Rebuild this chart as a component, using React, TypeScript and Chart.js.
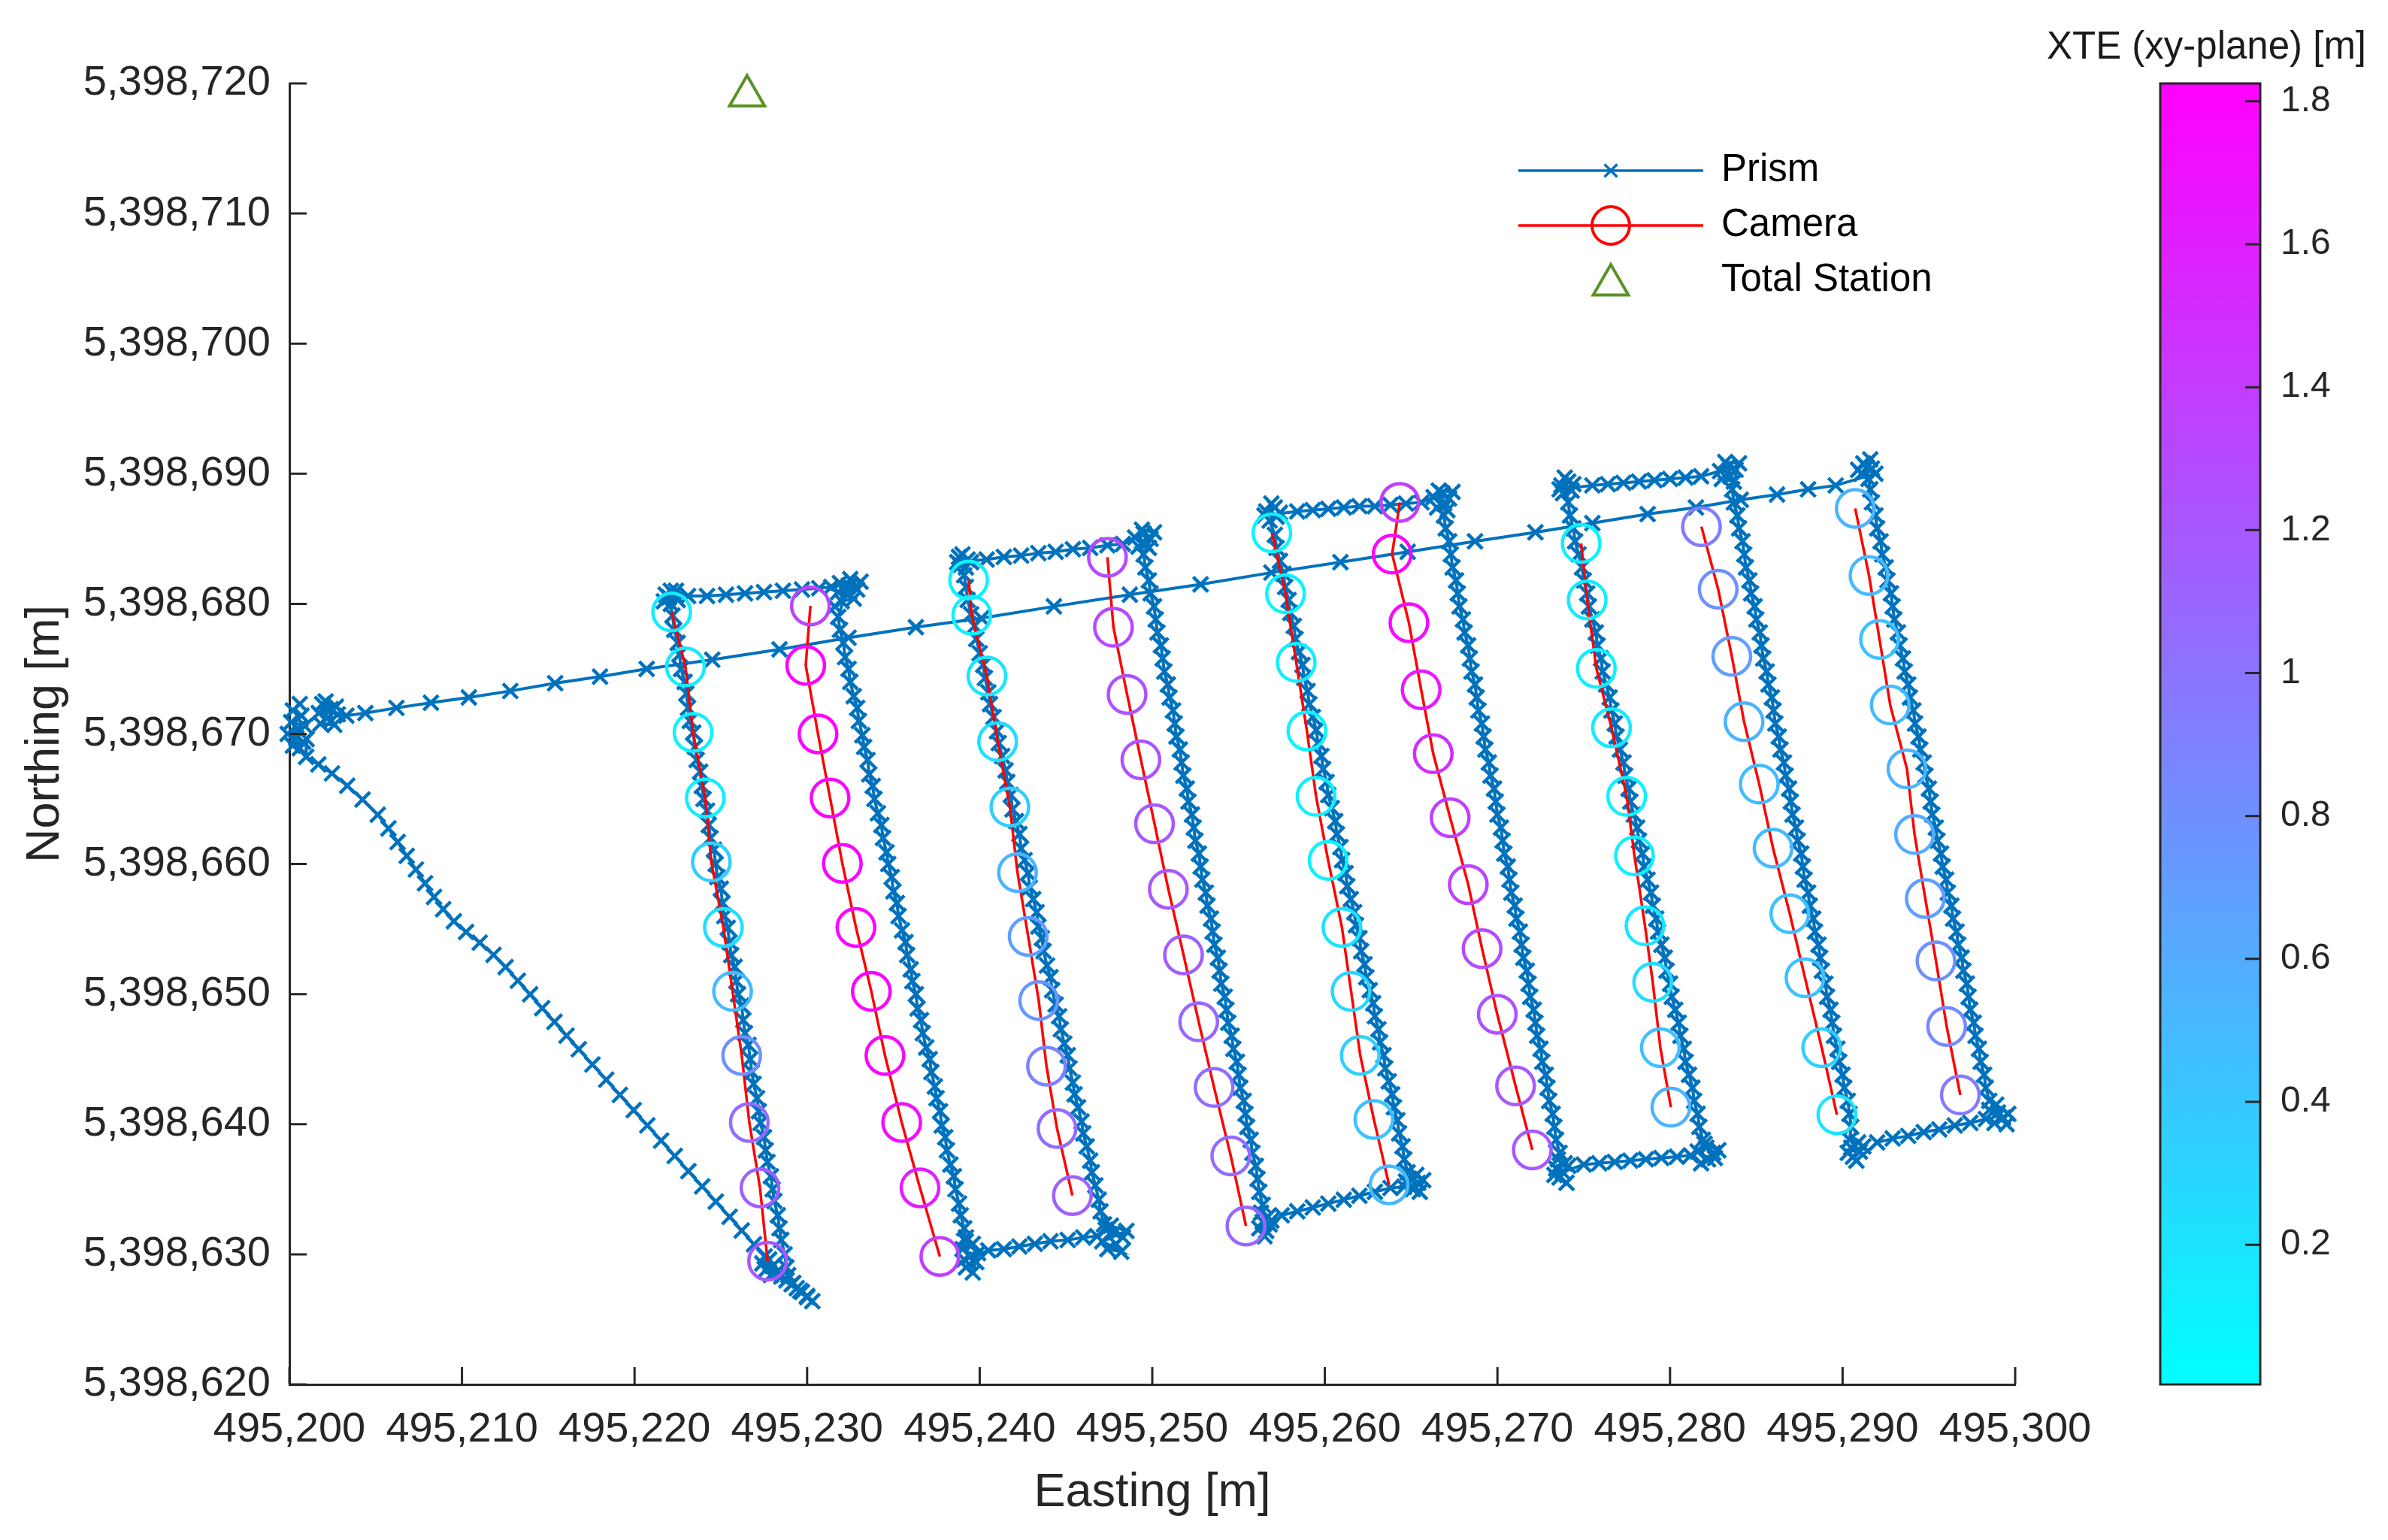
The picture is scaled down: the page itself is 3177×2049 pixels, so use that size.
import React, { useEffect, useRef } from 'react';
import { Chart, registerables } from 'chart.js';

Chart.register(...registerables);

// ---------------- base offsets (Easting / Northing in metres) ----------------
const E0 = 495200;
const N0 = 5398600;

// axis tick values
const xTickMin = 495200;
const xTickMax = 495300;
const yTickMin = 5398620;
const yTickMax = 5398720;
const tickStep = 10;
const colorbarTicks = [0.2, 0.4, 0.6, 0.8, 1.0, 1.2, 1.4, 1.6, 1.8];
const XTE_MIN = 0.0046;
const XTE_MAX = 1.825;

// ---------------- Prism track segments [E - E0, N - N0] ----------------
const startCluster = [[0.6,72.3],[0.2,71.8],[0.7,71.4],[0.1,70.9],[0.9,70.6],[0.5,70.4],[-0.1,70.0],[0.4,69.7],[0.8,69.4],[0.2,69.1],[0.6,68.9],[1.0,69.6]];
const diagonal = [[0.97,68.24],[1.68,67.66],[2.47,66.96],[3.35,66.02],[4.24,64.96],[5.12,63.79],[5.74,62.74],[6.27,61.69],[6.8,60.63],[7.33,59.58],[7.86,58.52],[8.38,57.47],[8.91,56.53],[9.53,55.6],[10.24,54.78],[11.03,53.96],[11.83,53.02],[12.53,52.08],[13.24,51.03],[13.95,49.98],[14.65,48.92],[15.36,47.87],[16.06,46.81],[16.77,45.76],[17.56,44.59],[18.36,43.42],[19.15,42.25],[19.95,41.08],[20.74,39.91],[21.54,38.74],[22.33,37.56],[23.12,36.39],[23.92,35.22],[24.71,34.05],[25.51,32.88],[26.21,31.83],[26.92,30.77],[27.54,29.84]];
const corner1 = [[27.8,29.6],[27.4,29.3],[28.0,29.1],[27.6,28.8],[28.2,28.6],[28.5,28.3],[27.9,28.4],[28.8,28.0],[29.1,27.7],[29.4,27.4],[29.7,27.1],[30.0,26.8],[30.3,26.4],[30.0,26.7],[29.6,27.2],[29.2,27.8],[28.9,28.4]];
const strip1 = [[28.8,29.0],[28.7,30.0],[28.5,31.1],[28.4,32.0],[28.3,33.0],[28.1,34.1],[28.0,35.0],[27.9,36.0],[27.7,37.1],[27.6,38.0],[27.5,39.0],[27.3,40.1],[27.2,41.0],[27.1,42.0],[26.9,43.1],[26.8,44.0],[26.7,45.0],[26.6,46.1],[26.4,47.0],[26.3,48.0],[26.2,49.1],[26.0,50.0],[25.9,51.0],[25.8,52.1],[25.6,53.0],[25.5,54.0],[25.4,55.1],[25.2,56.0],[25.1,57.0],[25.0,58.1],[24.8,59.0],[24.7,60.0],[24.6,61.1],[24.4,62.0],[24.3,63.0],[24.2,64.1],[24.0,65.0],[23.9,66.0],[23.8,67.1],[23.6,68.0],[23.5,69.0],[23.4,70.1],[23.2,71.0],[23.1,72.0],[23.0,73.1],[22.9,74.0],[22.7,75.0],[22.6,76.1],[22.5,77.0],[22.3,78.0],[22.2,79.1],[22.1,80.0]];
const corner1Top = [[22.0,80.5],[21.7,80.2],[22.3,80.7],[22.1,81.0],[21.8,80.7],[22.5,80.3],[22.4,81.0]];
const top1 = [[23.1,80.6],[24.2,80.6],[25.3,80.7],[26.4,80.8],[27.5,80.9],[28.6,81.0],[29.7,81.1],[30.7,81.2]];
const corner2 = [[31.4,81.3],[31.9,81.6],[32.4,81.4],[32.9,81.1],[32.3,80.8],[31.8,80.9],[32.7,80.4],[32.0,80.2],[31.6,79.8],[33.1,81.7],[32.5,81.9]];
const strip2 = [[31.8,79.0],[31.9,78.0],[32.1,77.0],[32.2,75.9],[32.4,75.0],[32.5,74.0],[32.7,72.9],[32.9,72.0],[33.0,71.0],[33.2,69.9],[33.3,69.0],[33.5,68.0],[33.6,66.9],[33.8,66.0],[33.9,65.0],[34.1,63.9],[34.3,63.0],[34.4,62.0],[34.6,60.9],[34.7,60.0],[34.9,59.0],[35.0,57.9],[35.2,57.0],[35.3,56.0],[35.5,54.9],[35.7,54.0],[35.8,53.0],[36.0,51.9],[36.1,51.0],[36.3,50.0],[36.4,48.9],[36.6,48.0],[36.7,47.0],[36.9,45.9],[37.1,45.0],[37.2,44.0],[37.4,42.9],[37.5,42.0],[37.7,41.0],[37.8,39.9],[38.0,39.0],[38.1,38.0],[38.3,36.9],[38.5,36.0],[38.6,35.0],[38.8,33.9],[38.9,33.0],[39.1,32.0],[39.2,31.0]];
const corner3 = [[39.2,31.3],[39.6,30.8],[39.0,30.4],[39.5,29.9],[39.8,29.4],[39.2,29.0],[39.6,28.6],[39.9,30.1],[39.1,29.6]];
const bottom1 = [[40.5,30.3],[41.4,30.4],[42.3,30.6],[43.2,30.8],[44.1,31.0],[45.1,31.1],[46.0,31.3]];
const corner4 = [[46.8,31.4],[47.3,31.9],[47.8,31.7],[48.3,31.3],[47.9,30.8],[47.4,30.4],[48.2,30.2],[47.1,31.0],[48.5,31.8],[47.6,32.2]];
const strip3 = [[47.2,32.3],[47.0,33.3],[46.9,34.2],[46.7,35.3],[46.5,36.3],[46.4,37.2],[46.2,38.3],[46.0,39.3],[45.9,40.2],[45.7,41.3],[45.5,42.3],[45.4,43.2],[45.2,44.3],[45.1,45.3],[44.9,46.2],[44.7,47.3],[44.6,48.3],[44.4,49.2],[44.2,50.3],[44.1,51.3],[43.9,52.2],[43.7,53.3],[43.6,54.3],[43.4,55.2],[43.3,56.3],[43.1,57.3],[42.9,58.2],[42.8,59.3],[42.6,60.3],[42.4,61.2],[42.3,62.3],[42.1,63.3],[41.9,64.2],[41.8,65.3],[41.6,66.3],[41.5,67.2],[41.3,68.3],[41.1,69.3],[41.0,70.2],[40.8,71.3],[40.6,72.3],[40.5,73.2],[40.3,74.3],[40.2,75.3],[40.0,76.2],[39.8,77.3],[39.7,78.3],[39.5,79.2],[39.3,80.3],[39.2,81.3],[39.1,82.2]];
const corner5 = [[38.9,83.0],[39.3,83.4],[38.8,83.6],[39.2,82.8],[39.5,83.2],[39.0,83.8],[38.7,83.2]];
const top2 = [[40.4,83.4],[41.4,83.6],[42.4,83.7],[43.4,83.9],[44.4,84.0],[45.4,84.2],[46.4,84.3],[47.4,84.5],[48.3,84.6]];
const corner6 = [[49.0,85.1],[49.5,85.4],[49.9,85.0],[49.6,84.6],[49.2,84.4],[49.8,84.3],[49.4,85.7],[50.1,85.5]];
const strip4 = [[49.5,83.8],[49.6,82.8],[49.8,81.8],[49.9,80.8],[50.1,79.8],[50.2,78.8],[50.3,77.8],[50.5,76.8],[50.6,75.8],[50.7,74.8],[50.9,73.8],[51.0,72.8],[51.2,71.8],[51.3,70.8],[51.4,69.8],[51.6,68.8],[51.7,67.8],[51.8,66.8],[52.0,65.8],[52.1,64.8],[52.3,63.8],[52.4,62.8],[52.5,61.8],[52.7,60.8],[52.8,59.8],[52.9,58.8],[53.1,57.8],[53.2,56.8],[53.4,55.8],[53.5,54.8],[53.6,53.8],[53.8,52.8],[53.9,51.8],[54.0,50.8],[54.2,49.8],[54.3,48.8],[54.4,47.8],[54.6,46.8],[54.7,45.8],[54.9,44.8],[55.0,43.8],[55.1,42.8],[55.3,41.8],[55.4,40.8],[55.5,39.8],[55.7,38.8],[55.8,37.8],[56.0,36.8],[56.1,35.8],[56.2,34.8],[56.4,33.8]];
const corner7 = [[56.3,33.2],[56.7,32.9],[56.4,32.5],[56.8,32.3],[56.2,32.0],[56.6,31.8],[56.9,32.6],[56.5,31.4]];
const bottom2 = [[57.5,33.0],[58.4,33.3],[59.3,33.6],[60.2,33.9],[61.1,34.2],[62.0,34.5],[62.9,34.8],[63.8,35.1]];
const corner8 = [[64.6,35.2],[65.1,35.0],[65.4,35.5],[64.9,35.8],[65.3,36.1],[64.7,35.6],[65.5,34.8],[65.7,35.7]];
const strip5 = [[64.8,36.3],[64.6,37.3],[64.5,38.3],[64.3,39.3],[64.2,40.3],[64.0,41.3],[63.9,42.3],[63.7,43.3],[63.5,44.3],[63.4,45.3],[63.2,46.3],[63.1,47.3],[62.9,48.3],[62.8,49.3],[62.6,50.3],[62.4,51.3],[62.3,52.3],[62.1,53.3],[62.0,54.3],[61.8,55.3],[61.7,56.3],[61.5,57.3],[61.3,58.3],[61.2,59.3],[61.0,60.3],[60.9,61.3],[60.7,62.3],[60.6,63.3],[60.4,64.3],[60.2,65.3],[60.1,66.3],[59.9,67.3],[59.8,68.3],[59.6,69.3],[59.5,70.3],[59.3,71.3],[59.1,72.3],[59.0,73.3],[58.8,74.3],[58.7,75.3],[58.5,76.3],[58.3,77.3],[58.2,78.3],[58.0,79.3],[57.9,80.3],[57.7,81.3],[57.6,82.3],[57.4,83.3],[57.2,84.3],[57.1,85.3]];
const corner9 = [[56.8,86.4],[57.2,86.7],[56.6,87.1],[57.1,87.4],[57.4,87.0],[56.9,87.7],[56.5,86.8]];
const top3 = [[58.4,87.1],[59.3,87.2],[60.2,87.3],[61.1,87.4],[62.0,87.5],[62.9,87.5],[63.8,87.6],[64.7,87.7],[65.6,87.8]];
const corner10 = [[66.3,88.2],[66.8,88.5],[67.2,88.1],[66.9,87.7],[66.5,87.4],[67.1,87.2],[66.6,88.7],[67.4,88.6]];
const strip6 = [[66.9,86.8],[67.0,85.8],[67.2,84.8],[67.3,83.8],[67.4,82.8],[67.6,81.8],[67.7,80.8],[67.8,79.8],[68.0,78.8],[68.1,77.8],[68.3,76.8],[68.4,75.8],[68.5,74.8],[68.7,73.8],[68.8,72.8],[68.9,71.8],[69.1,70.8],[69.2,69.8],[69.3,68.8],[69.5,67.8],[69.6,66.8],[69.8,65.8],[69.9,64.8],[70.0,63.8],[70.2,62.8],[70.3,61.8],[70.4,60.8],[70.6,59.8],[70.7,58.8],[70.8,57.8],[71.0,56.8],[71.1,55.8],[71.3,54.8],[71.4,53.8],[71.5,52.8],[71.7,51.8],[71.8,50.8],[71.9,49.8],[72.1,48.8],[72.2,47.8],[72.3,46.8],[72.5,45.8],[72.6,44.8],[72.8,43.8],[72.9,42.8],[73.0,41.8],[73.2,40.8],[73.3,39.8],[73.4,38.8],[73.6,37.8]];
const corner11 = [[73.5,37.3],[73.9,37.0],[73.4,36.6],[73.8,36.3],[74.1,36.8],[73.6,35.9],[74.0,35.5],[73.3,36.1]];
const bottom3 = [[75.0,36.9],[75.9,37.0],[76.8,37.1],[77.7,37.2],[78.6,37.3],[79.5,37.4],[80.4,37.5],[81.2,37.6]];
const corner12 = [[81.6,37.9],[82.1,38.2],[82.5,37.8],[82.2,37.3],[81.8,37.0],[82.6,37.4],[82.0,38.5],[82.8,38.0]];
const strip7 = [[81.9,38.8],[81.7,39.8],[81.6,40.8],[81.4,41.8],[81.3,42.8],[81.1,43.8],[80.9,44.8],[80.8,45.8],[80.6,46.8],[80.5,47.8],[80.3,48.8],[80.1,49.8],[80.0,50.8],[79.8,51.8],[79.7,52.8],[79.5,53.8],[79.3,54.8],[79.2,55.8],[79.0,56.8],[78.9,57.8],[78.7,58.8],[78.5,59.8],[78.4,60.8],[78.2,61.8],[78.1,62.8],[77.9,63.8],[77.7,64.8],[77.6,65.8],[77.4,66.8],[77.3,67.8],[77.1,68.8],[76.9,69.8],[76.8,70.8],[76.6,71.8],[76.5,72.8],[76.3,73.8],[76.1,74.8],[76.0,75.8],[75.8,76.8],[75.7,77.8],[75.5,78.8],[75.3,79.8],[75.2,80.8],[75.0,81.8],[74.9,82.8],[74.7,83.8],[74.5,84.8],[74.4,85.8],[74.2,86.8],[74.1,87.8]];
const corner13 = [[73.8,88.5],[74.3,88.7],[73.7,89.1],[74.1,89.4],[74.4,89.2],[73.9,89.7],[73.6,88.8]];
const top4 = [[75.5,89.1],[76.4,89.2],[77.3,89.3],[78.2,89.4],[79.1,89.5],[80.0,89.6],[80.9,89.7],[81.8,89.8]];
const corner14 = [[82.9,90.2],[83.4,90.6],[83.8,90.3],[83.5,89.8],[83.0,89.6],[83.7,89.4],[83.2,90.9],[84.0,90.8]];
const strip8 = [[83.6,88.8],[83.7,87.8],[83.9,86.8],[84.0,85.8],[84.2,84.8],[84.3,83.8],[84.4,82.8],[84.6,81.8],[84.7,80.8],[84.9,79.8],[85.0,78.8],[85.2,77.8],[85.3,76.8],[85.4,75.8],[85.6,74.8],[85.7,73.8],[85.9,72.8],[86.0,71.8],[86.1,70.8],[86.3,69.8],[86.4,68.8],[86.6,67.8],[86.7,66.8],[86.9,65.8],[87.0,64.8],[87.1,63.8],[87.3,62.8],[87.4,61.8],[87.6,60.8],[87.7,59.8],[87.8,58.8],[88.0,57.8],[88.1,56.8],[88.3,55.8],[88.4,54.8],[88.6,53.8],[88.7,52.8],[88.8,51.8],[89.0,50.8],[89.1,49.8],[89.3,48.8],[89.4,47.8],[89.5,46.8],[89.7,45.8],[89.8,44.8],[90.0,43.8],[90.1,42.8],[90.3,41.8],[90.4,40.8],[90.5,39.8]];
const corner15 = [[90.4,38.8],[90.9,38.6],[90.5,38.2],[91.0,37.9],[90.6,37.5],[91.2,38.3],[90.3,37.8],[90.8,37.2]];
const bottom4 = [[92.0,38.6],[92.9,38.9],[93.8,39.1],[94.7,39.4],[95.6,39.6],[96.5,39.9],[97.4,40.1]];
const corner16 = [[98.3,40.4],[98.8,40.1],[99.3,40.5],[99.0,40.9],[98.5,41.1],[99.5,40.0],[98.9,41.5],[99.6,40.8]];
const strip9 = [[98.5,41.8],[98.3,42.8],[98.2,43.8],[98.0,44.8],[97.9,45.8],[97.7,46.8],[97.6,47.8],[97.4,48.8],[97.3,49.8],[97.2,50.8],[97.0,51.8],[96.9,52.8],[96.7,53.8],[96.6,54.8],[96.4,55.8],[96.3,56.8],[96.1,57.8],[96.0,58.8],[95.8,59.8],[95.7,60.8],[95.5,61.8],[95.4,62.8],[95.2,63.8],[95.1,64.8],[95.0,65.8],[94.8,66.8],[94.7,67.8],[94.5,68.8],[94.4,69.8],[94.2,70.8],[94.1,71.8],[93.9,72.8],[93.8,73.8],[93.6,74.8],[93.5,75.8],[93.3,76.8],[93.2,77.8],[93.0,78.8],[92.9,79.8],[92.8,80.8],[92.6,81.8],[92.5,82.8],[92.3,83.8],[92.2,84.8],[92.0,85.8],[91.9,86.8],[91.7,87.8],[91.6,88.8]];
const corner17 = [[91.5,89.6],[91.1,90.0],[91.7,90.4],[91.2,90.8],[90.9,90.3],[91.6,91.1],[91.4,90.5],[91.9,90.0]];
const longLine = [[89.6,89.1],[88.0,88.8],[86.2,88.4],[84.1,88.0],[81.5,87.4],[78.7,86.9],[75.5,86.2],[72.2,85.5],[68.7,84.8],[64.8,84.0],[60.9,83.2],[56.9,82.4],[52.8,81.5],[48.7,80.7],[44.3,79.8],[40.1,78.9],[36.3,78.2],[32.4,77.4],[28.4,76.5],[24.5,75.7],[20.7,75.0],[18.0,74.4],[15.4,73.9],[12.8,73.3],[10.4,72.8],[8.2,72.4],[6.2,72.0],[4.4,71.6],[3.3,71.4]];
const endCluster = [[2.8,71.5],[2.4,71.9],[1.9,72.3],[2.2,71.2],[1.8,70.8],[2.6,70.7],[2.1,72.5],[2.7,72.1],[1.7,71.6],[2.4,71.0]];

const prismSegments = [
  startCluster, diagonal, corner1, strip1, corner1Top, top1, corner2, strip2, corner3, bottom1, corner4,
  strip3, corner5, top2, corner6, strip4, corner7, bottom2, corner8, strip5, corner9, top3, corner10,
  strip6, corner11, bottom3, corner12, strip7, corner13, top4, corner14, strip8, corner15, bottom4,
  corner16, strip9, corner17, longLine, endCluster,
];

// ---------------- Camera positions per strip [E - E0, N - N0] ----------------
const cam1 = [[22.15,79.37],[22.95,75.15],[23.39,70.12],[24.1,65.08],[24.45,60.16],[25.15,55.13],[25.68,50.21],[26.21,45.29],[26.65,40.14],[27.27,35.11],[27.71,29.48]];
const cam2 = [[30.19,79.84],[29.92,75.27],[30.63,70.0],[31.33,65.08],[32.04,60.05],[32.83,55.13],[33.72,50.21],[34.51,45.29],[35.48,40.14],[36.54,35.11],[37.69,29.84]];
const cam3 = [[39.36,81.83],[39.54,79.13],[40.42,74.45],[41.04,69.41],[41.75,64.38],[42.19,59.34],[42.81,54.43],[43.42,49.51],[43.87,44.47],[44.48,39.67],[45.37,34.52]];
const cam4 = [[47.4,83.58],[47.75,78.2],[48.54,73.04],[49.34,68.01],[50.13,63.09],[50.93,58.06],[51.81,53.02],[52.69,47.87],[53.58,42.83],[54.55,37.56],[55.43,32.18]];
const cam5 = [[56.93,85.46],[57.72,80.77],[58.34,75.5],[58.96,70.23],[59.49,65.2],[60.19,60.28],[60.99,55.13],[61.52,50.21],[62.05,45.29],[62.84,40.37],[63.72,35.34]];
const cam6 = [[64.34,87.8],[63.9,83.82],[64.87,78.55],[65.58,73.4],[66.28,68.48],[67.26,63.56],[68.31,58.41],[69.11,53.49],[69.99,48.45],[71.05,42.95],[72.02,38.03]];
const cam7 = [[74.85,84.64],[75.2,80.3],[75.73,75.04],[76.61,70.47],[77.49,65.2],[77.94,60.63],[78.55,55.25],[79.0,50.91],[79.44,45.88],[80.05,41.31]];
const cam8 = [[81.82,85.93],[82.79,81.12],[83.58,75.97],[84.29,70.94],[85.17,66.14],[85.97,61.22],[86.94,56.18],[87.82,51.26],[88.79,45.88],[89.67,40.73]];
const cam9 = [[90.73,87.33],[91.53,82.18],[92.14,77.26],[92.76,72.22],[93.73,67.31],[94.17,62.27],[94.79,57.35],[95.41,52.55],[96.03,47.52],[96.82,42.25]];

// cross-track error (xy-plane) in metres for each camera position
const xte1 = [0.15,0.15,0.1,0.12,0.35,0.25,0.5,0.8,1.05,1.15,1.2];
const xte2 = [1.35,1.8,1.8,1.8,1.8,1.8,1.8,1.78,1.72,1.62,1.4];
const xte3 = [0.1,0.12,0.2,0.25,0.35,0.55,0.7,0.75,0.9,1.05,1.15];
const xte4 = [1.3,1.3,1.25,1.25,1.2,1.2,1.15,1.1,1.05,1.05,1.1];
const xte5 = [0.1,0.1,0.12,0.1,0.12,0.1,0.2,0.3,0.35,0.45,0.5];
const xte6 = [1.4,1.8,1.75,1.65,1.5,1.4,1.35,1.3,1.25,1.2,1.2];
const xte7 = [0.12,0.15,0.12,0.15,0.1,0.12,0.18,0.25,0.45,0.55];
const xte8 = [0.95,0.8,0.7,0.55,0.5,0.5,0.45,0.45,0.35,0.2];
const xte9 = [0.55,0.5,0.45,0.5,0.55,0.6,0.7,0.8,0.85,0.95];

const cameraStrips = [cam1, cam2, cam3, cam4, cam5, cam6, cam7, cam8, cam9];
const xteStrips = [xte1, xte2, xte3, xte4, xte5, xte6, xte7, xte8, xte9];

// Total station position
const totalStation = [[26.52, 119.05]];

// ---------------- styling ----------------
const W = 3177;
const H = 2049;
const PLOT_LEFT = 385;
const PLOT_TOP = 111;
const PLOT_RIGHT = 2681;
const PLOT_BOTTOM = 1842;
const CB_LEFT = 2874;
const CB_RIGHT = 3007;
const FONT = "'Liberation Sans', Arial, Helvetica, sans-serif";
const AXIS = '#262626';
const BLUE = '#0072BD';
const RED = '#FF0000';
const GREEN = '#5A9226';

function coolColor(v: number): string {
  let t = (v - XTE_MIN) / (XTE_MAX - XTE_MIN);
  t = Math.max(0, Math.min(1, t));
  return `rgb(${Math.round(255 * t)},${Math.round(255 * (1 - t))},255)`;
}

const toPts = (arr: number[][]) => arr.map(([e, n]) => ({ x: E0 + e, y: N0 + n }));

const overlayPlugin = {
  id: 'overlay',
  afterDraw(chart: any) {
    const { ctx, chartArea: a, scales } = chart;
    const xs = scales.x;
    const ys = scales.y;
    ctx.save();
    // inward tick marks
    ctx.strokeStyle = AXIS;
    ctx.lineWidth = 3;
    ctx.beginPath();
    xs.ticks.forEach((t: any) => {
      const px = xs.getPixelForValue(t.value);
      ctx.moveTo(px, a.bottom);
      ctx.lineTo(px, a.bottom - 23);
    });
    ys.ticks.forEach((t: any) => {
      const py = ys.getPixelForValue(t.value);
      ctx.moveTo(a.left, py);
      ctx.lineTo(a.left + 23, py);
    });
    ctx.stroke();

    // colorbar
    const top = a.top;
    const bot = a.bottom;
    const g = ctx.createLinearGradient(0, bot, 0, top);
    g.addColorStop(0, coolColor(XTE_MIN));
    g.addColorStop(1, coolColor(XTE_MAX));
    ctx.fillStyle = g;
    ctx.fillRect(CB_LEFT, top, CB_RIGHT - CB_LEFT, bot - top);
    ctx.strokeStyle = AXIS;
    ctx.lineWidth = 3;
    ctx.strokeRect(CB_LEFT, top, CB_RIGHT - CB_LEFT, bot - top);
    ctx.font = `48px ${FONT}`;
    ctx.fillStyle = AXIS;
    ctx.textAlign = 'left';
    ctx.textBaseline = 'middle';
    ctx.beginPath();
    colorbarTicks.forEach((v) => {
      const py = bot - ((v - XTE_MIN) / (XTE_MAX - XTE_MIN)) * (bot - top);
      ctx.moveTo(CB_RIGHT, py);
      ctx.lineTo(CB_RIGHT - 20, py);
      ctx.fillText(String(Math.round(v * 10) / 10), CB_RIGHT + 27, py);
    });
    ctx.stroke();
    ctx.font = `51px ${FONT}`;
    ctx.fillStyle = '#1a1a1a';
    ctx.textAlign = 'center';
    ctx.fillText('XTE (xy-plane) [m]', (CB_LEFT + CB_RIGHT) / 2 - 5, 64);

    // legend
    const lx1 = 2020;
    const lx2 = 2266;
    const lcx = 2143;
    const textX = 2290;
    const rows = [227, 300, 373];
    ctx.lineCap = 'butt';
    // Prism
    ctx.strokeStyle = BLUE;
    ctx.lineWidth = 3.5;
    ctx.beginPath();
    ctx.moveTo(lx1, rows[0]);
    ctx.lineTo(lx2, rows[0]);
    const r = 12 * Math.SQRT1_2;
    ctx.moveTo(lcx - r, rows[0] - r);
    ctx.lineTo(lcx + r, rows[0] + r);
    ctx.moveTo(lcx + r, rows[0] - r);
    ctx.lineTo(lcx - r, rows[0] + r);
    ctx.stroke();
    // Camera
    ctx.strokeStyle = RED;
    ctx.lineWidth = 3.5;
    ctx.beginPath();
    ctx.moveTo(lx1, rows[1]);
    ctx.lineTo(lx2, rows[1]);
    ctx.stroke();
    ctx.lineWidth = 4;
    ctx.beginPath();
    ctx.arc(lcx, rows[1], 25, 0, Math.PI * 2);
    ctx.stroke();
    // Total station
    ctx.strokeStyle = GREEN;
    ctx.lineWidth = 4;
    const tr = 27;
    const tcy = rows[2] + 6;
    ctx.beginPath();
    ctx.moveTo(lcx, tcy - tr);
    ctx.lineTo(lcx + 0.866 * tr, tcy + 0.5 * tr);
    ctx.lineTo(lcx - 0.866 * tr, tcy + 0.5 * tr);
    ctx.closePath();
    ctx.stroke();
    ctx.font = `51px ${FONT}`;
    ctx.fillStyle = '#000';
    ctx.textAlign = 'left';
    ctx.textBaseline = 'middle';
    ctx.fillText('Prism', textX, rows[0]);
    ctx.fillText('Camera', textX, rows[1]);
    ctx.fillText('Total Station', textX, rows[2]);
    ctx.restore();
  },
};

export default function App() {
  const ref = useRef<HTMLCanvasElement>(null);
  useEffect(() => {
    const canvas = ref.current;
    if (!canvas) return;
    Chart.defaults.font.family = FONT;
    const prismPath = prismSegments.flat();
    const cameraDatasets = cameraStrips.map((c, i) => ({
      label: i === 0 ? 'Camera' : `Camera ${i + 1}`,
      data: toPts(c),
      showLine: true,
      borderColor: RED,
      borderWidth: 3.5,
      pointStyle: 'circle',
      pointRadius: 25,
      pointBorderWidth: 4.5,
      pointBorderColor: xteStrips[i].map(coolColor),
      pointBackgroundColor: 'rgba(0,0,0,0)',
      order: 1,
      clip: false,
    }));
    const chart = new Chart(canvas, {
      type: 'scatter',
      data: {
        datasets: [
          {
            label: 'Total Station',
            data: toPts(totalStation),
            showLine: false,
            pointStyle: 'triangle',
            pointRadius: 27,
            pointBorderWidth: 4,
            pointBorderColor: GREEN,
            pointBackgroundColor: 'rgba(0,0,0,0)',
            order: 0,
            clip: false,
          },
          ...cameraDatasets,
          {
            label: 'Prism',
            data: toPts(prismPath),
            showLine: true,
            borderColor: BLUE,
            borderWidth: 4,
            pointStyle: 'crossRot',
            pointRadius: 14,
            pointBorderWidth: 4.5,
            pointBorderColor: BLUE,
            pointBackgroundColor: BLUE,
            order: 2,
            clip: false,
          },
        ] as any,
      },
      options: {
        responsive: false,
        animation: false,
        devicePixelRatio: 1,
        events: [],
        layout: { padding: { left: 0, top: PLOT_TOP, right: W - PLOT_RIGHT, bottom: 0 } },
        plugins: { legend: { display: false }, tooltip: { enabled: false } },
        scales: {
          x: {
            type: 'linear',
            position: 'bottom',
            min: xTickMin,
            max: xTickMax,
            afterFit: (s: any) => { s.height = H - PLOT_BOTTOM; },
            grid: { display: false, drawTicks: false },
            border: { display: true, color: AXIS, width: 3 },
            ticks: {
              stepSize: tickStep,
              autoSkip: false,
              maxRotation: 0,
              padding: 27,
              color: AXIS,
              font: { size: 56, family: FONT },
              callback: (v: any) => Number(v).toLocaleString('en-US'),
            },
            title: { display: true, text: 'Easting [m]', color: AXIS, font: { size: 63, family: FONT }, padding: { top: 0, bottom: 25 } },
          },
          y: {
            type: 'linear',
            position: 'left',
            min: yTickMin,
            max: yTickMax,
            afterFit: (s: any) => { s.width = PLOT_LEFT; },
            grid: { display: false, drawTicks: false },
            border: { display: true, color: AXIS, width: 3 },
            ticks: {
              stepSize: tickStep,
              autoSkip: false,
              padding: 25,
              color: AXIS,
              font: { size: 56, family: FONT },
              callback: (v: any) => Number(v).toLocaleString('en-US'),
            },
            title: { display: true, text: 'Northing [m]', color: AXIS, font: { size: 63, family: FONT }, padding: { top: 23, bottom: 0 } },
          },
        },
      } as any,
      plugins: [overlayPlugin],
    });
    return () => chart.destroy();
  }, []);
  return (
    <div style={{ position: 'absolute', left: 0, top: 0, width: W, height: H, background: '#ffffff' }}>
      <canvas ref={ref} width={W} height={H} style={{ display: 'block', width: W, height: H }} />
    </div>
  );
}
